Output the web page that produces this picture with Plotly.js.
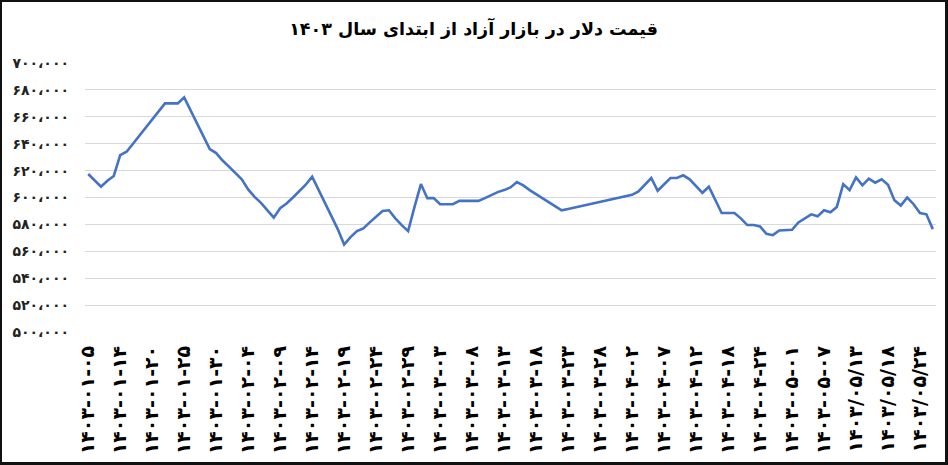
<!DOCTYPE html>
<html>
<head>
<meta charset="utf-8">
<script src="https://cdn.plot.ly/plotly-3.0.1.min.js"></script>
<style>
  html, body { margin: 0; padding: 0; background: #fff; }
  #frame {
    width: 943px;
    height: 460px;
    border-left: 2px solid #111;
    border-top: 2px solid #111;
    border-right: 3px solid #111;
    border-bottom: 3px solid #111;
  }
  #chart { width: 943px; height: 460px; }
</style>
</head>
<body>
<div id="frame"><div id="chart"></div></div>
<script>
// shown date labels, one every 5 trading days
const dateLabels = [
  "۱۴۰۳-۰۱-۰۵", "۱۴۰۳-۰۱-۱۴", "۱۴۰۳-۰۱-۲۰", "۱۴۰۳-۰۱-۲۵", "۱۴۰۳-۰۱-۳۰",
  "۱۴۰۳-۰۲-۰۴", "۱۴۰۳-۰۲-۰۹", "۱۴۰۳-۰۲-۱۴", "۱۴۰۳-۰۲-۱۹", "۱۴۰۳-۰۲-۲۴",
  "۱۴۰۳-۰۲-۲۹", "۱۴۰۳-۰۳-۰۳", "۱۴۰۳-۰۳-۰۸", "۱۴۰۳-۰۳-۱۳", "۱۴۰۳-۰۳-۱۸",
  "۱۴۰۳-۰۳-۲۳", "۱۴۰۳-۰۳-۲۸", "۱۴۰۳-۰۴-۰۲", "۱۴۰۳-۰۴-۰۷", "۱۴۰۳-۰۴-۱۲",
  "۱۴۰۳-۰۴-۱۸", "۱۴۰۳-۰۴-۲۴", "۱۴۰۳-۰۵-۰۱", "۱۴۰۳-۰۵-۰۷", "۱۴۰۳/۰۵/۱۳",
  "۱۴۰۳/۰۵/۱۸", "۱۴۰۳/۰۵/۲۴"
];
const labelStep = 5;

// dollar price (rial) per trading day
const prices = [
  617500, 613000, 608000, 612500, 616000, 631500, 634000, 640000, 646000, 652000,
  658000, 664000, 670000, 670000, 670000, 674500, 665000, 655000, 645000, 636000,
  633000, 627500, 623000, 618500, 613500, 606000, 600500, 596000, 590500, 585000,
  592000, 595500, 600000, 605000, 609500, 615500, 606000, 596000, 586000, 576500,
  565000, 570500, 575000, 577000, 581500, 586000, 590000, 590500, 584500, 579500,
  575000, 593000, 610000, 599500, 599500, 595000, 595000, 595000, 597500, 597500,
  597500, 597500, 599500, 602000, 604000, 605500, 607500, 611500, 609000, 605500,
  602500, 599500, 596500, 593500, 590500, 591500, 592500, 593500, 594500, 595500,
  596500, 597500, 598500, 599500, 600500, 602000, 604500, 609500, 614500, 605000,
  610000, 614500, 614500, 616500, 613500, 608500, 603500, 608000, 598000, 588500,
  588500, 588500, 584500, 579500, 579500, 578500, 573000, 572000, 575500, 576000,
  576000, 581500, 584500, 587500, 586000, 590500, 589000, 593000, 610000, 605500,
  615000, 609000, 614000, 611000, 613500, 609500, 598000, 594000, 600000, 595000,
  588500, 587500, 576500
];

const yTickValues = [500000, 520000, 540000, 560000, 580000, 600000, 620000, 640000, 660000, 680000, 700000];
const yTickLabels = ["۵۰۰،۰۰۰", "۵۲۰،۰۰۰", "۵۴۰،۰۰۰", "۵۶۰،۰۰۰", "۵۸۰،۰۰۰", "۶۰۰،۰۰۰",
  "۶۲۰،۰۰۰", "۶۴۰،۰۰۰", "۶۶۰،۰۰۰", "۶۸۰،۰۰۰", "۷۰۰،۰۰۰"];

const chartTitle = "قیمت دلار در بازار آزاد از ابتدای سال ۱۴۰۳";

const trace = {
  type: "scatter",
  mode: "lines",
  x: prices.map((_, i) => i),
  y: prices,
  line: { color: "#4472C4", width: 2.6 },
  hoverinfo: "y",
};

const layout = {
  width: 943,
  height: 460,
  margin: { l: 83, r: 9, t: 61, b: 130 },
  paper_bgcolor: "#fff",
  plot_bgcolor: "#fff",
  showlegend: false,
  font: { family: "DejaVu Sans, sans-serif", color: "#000" },
  title: {
    text: chartTitle,
    font: { size: 17.5, weight: "bold", color: "#000" },
    x: 0.5,
    xanchor: "center",
    yref: "container",
    y: 0.942,
    yanchor: "middle",
  },
  xaxis: {
    range: [-0.5, prices.length - 0.5],
    tickmode: "array",
    tickvals: dateLabels.map((_, k) => k * labelStep),
    ticktext: dateLabels,
    tickangle: -90,
    tickfont: { size: 19, weight: "bold", color: "#000" },
    ticks: "",
    ticklabelstandoff: 9,
    showgrid: false,
    zeroline: false,
    showline: false,
    fixedrange: true,
  },
  yaxis: {
    range: [500000, 700000],
    tickmode: "array",
    tickvals: yTickValues,
    ticktext: yTickLabels,
    tickfont: { size: 14, weight: "bold", color: "#222" },
    ticks: "",
    ticklabelstandoff: 15,
    showgrid: true,
    gridcolor: "#d9d9d9",
    gridwidth: 1,
    zeroline: false,
    showline: false,
    fixedrange: true,
  },
};

Plotly.newPlot("chart", [trace], layout, { displayModeBar: false, staticPlot: true });
</script>
</body>
</html>
